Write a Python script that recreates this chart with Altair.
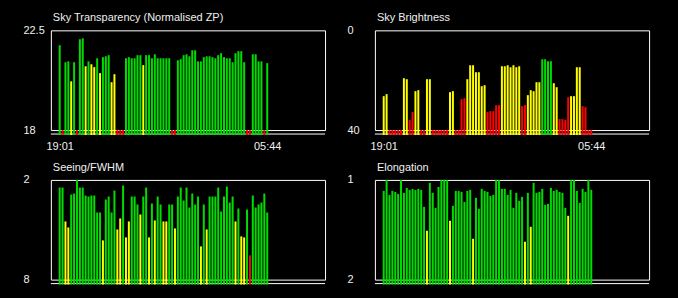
import altair as alt
import pandas as pd

# ---- data ----
time_labels = ["19:01", "05:44"]
time_label_index = [0, 72]

transparency = [21.83, 18, 21.06, 21.10, 20.20, 21.06, 18, 22.10, 22.14, 20.88,
                21.10, 20.97, 20.84, 21.24, 20.57, 21.29, 21.33, 21.38, 20.16, 20.52,
                18, 18, 18, 21.24, 21.29, 21.24, 21.24, 21.38, 21.38, 20.93,
                21.38, 21.38, 21.24, 21.42, 21.24, 21.24, 21.24, 21.24, 21.24, 18,
                18, 21.15, 21.20, 21.38, 21.42, 21.33, 21.60, 21.60, 21.10, 21.10,
                21.29, 21.33, 21.33, 21.29, 21.24, 21.38, 21.47, 21.29, 21.24, 21.24,
                21.06, 21.47, 21.56, 21.56, 21.06, 18, 18, 21.42, 21.42, 21.10,
                21.10, 18, 21.02]
transparency_flag = list("GRGGYGRGGY" "GYYGYGGGYY" "RRRGGGGGGY" "GGGGGGGGGR"
                         "RGGGGGGGGG" "GGGGGGGGGG" "GGGGGRRGGG" "GRG")

brightness = [26.4, 25.6, 40, 40, 40, 40, 40, 19.2, 19.6, 36.0,
              32.8, 24.4, 24.0, 40, 40, 19.6, 19.6, 40, 40, 40,
              40, 40, 40, 24.8, 24.4, 40, 40, 27.6, 27.2, 19.6,
              14.0, 14.0, 16.8, 16.8, 22.4, 22.0, 32.8, 32.4, 32.4, 30.0,
              30.0, 14.4, 14.4, 14.0, 14.8, 14.0, 14.8, 14.4, 30.4, 30.0,
              26.0, 24.0, 24.4, 20.8, 20.8, 11.6, 11.6, 12.4, 12.4, 21.2,
              22.8, 35.6, 35.6, 36.0, 26.8, 26.4, 26.4, 14.8, 14.8, 30.4,
              30.8, 40, 40]
brightness_flag = list("YYRRRRRYYR" "RYYRRYYRRR" "RRRYYRRRRY" "YYYYYYRRRR"
                       "RYYYYYYYRR" "YYYYYGGGGY" "YRRRRYYYYR" "RRR")

seeing = [2.46, 2.46, 4.50, 4.86, 2.88, 2.82, 2.00, 2.46, 2.46, 2.94,
          3.00, 2.94, 2.94, 3.96, 3.96, 5.64, 3.18, 3.00, 3.96, 2.64,
          4.98, 4.32, 2.34, 5.46, 4.50, 3.00, 3.00, 3.48, 4.08, 3.00,
          2.46, 5.46, 3.42, 4.44, 3.00, 3.48, 4.50, 4.50, 3.48, 3.48,
          4.92, 3.00, 2.46, 3.24, 2.46, 3.66, 2.82, 3.48, 3.00, 6.00,
          3.48, 4.98, 3.00, 3.00, 3.00, 2.46, 3.90, 3.00, 2.40, 3.36,
          3.00, 4.50, 3.72, 5.40, 5.46, 3.78, 6.54, 2.94, 3.66, 3.48,
          3.36, 2.82, 3.96]
seeing_flag = list("GGYYGGGGGG" "GGGGGYGGGG" "YYGYYGGGYG" "GYGYGGYYGG"
                   "YGGGGGGGGY" "GYGGGGGGGG" "GYGYYGRGGG" "GGG")

elongation = [1.11, 1.00, 1.15, 1.11, 1.12, 1.14, 1.00, 1.13, 1.08, 1.10,
              1.09, 1.10, 1.09, 1.10, 1.27, 1.51, 1.03, 1.13, 1.28, 1.07,
              1.00, 1.00, 1.00, 1.41, 1.26, 1.11, 1.11, 1.12, 1.22, 1.11,
              1.10, 1.59, 1.18, 1.29, 1.09, 1.11, 1.12, 1.16, 1.15, 1.00,
              1.00, 1.09, 1.09, 1.15, 1.10, 1.28, 1.13, 1.21, 1.17, 1.62,
              1.13, 1.47, 1.03, 1.13, 1.12, 1.09, 1.25, 1.24, 1.08, 1.11,
              1.10, 1.12, 1.13, 1.28, 1.36, 1.00, 1.00, 1.11, 1.23, 1.09,
              1.12, 1.00, 1.10]
elongation_flag = list("GGGGGGGGGG" "GGGGGYGGGG" "GGGYGGGGGG" "GYGGGGGGGG"
                       "GGGGGGGGGY" "GYGGGGGGGG" "GGGGYGGGGG" "GGG")

flag_names = ["G", "Y", "R"]
flag_colors = ["#00dc00", "#ffff00", "#ff0000"]

W, H = 275, 100
BASE_PX = 5          # bars start this many pixels below the frame
FONT = "Liberation Sans"
TXT = "#f0f0f0"

time_expr = "datum.value == %d ? '%s' : '%s'" % (time_label_index[0], time_labels[0], time_labels[1])


def panel(title, values, flags, lo, hi, reverse, show_time):
    df = pd.DataFrame({"i": list(range(len(values))), "v": values, "q": flags})
    # baseline value lying BASE_PX pixels beyond the bottom of the frame
    base = (lo - (hi - lo) * BASE_PX / H) if not reverse else (hi + (hi - lo) * BASE_PX / H)
    if show_time:
        xaxis = alt.Axis(values=time_label_index, labelExpr=time_expr, ticks=False,
                         domain=False, grid=False, labelPadding=10, labelFlush=False,
                         labelColor=TXT, labelFontSize=11, labelFont=FONT, title=None)
    else:
        xaxis = None
    x = alt.X("i:Q", axis=xaxis,
              scale=alt.Scale(domain=[-4 / 3, W / 3 - 4 / 3], nice=False, zero=False))
    y = alt.Y("v:Q",
              scale=alt.Scale(domain=[lo, hi], reverse=reverse, nice=False, zero=False),
              axis=alt.Axis(values=[lo, hi], format=".3~g", ticks=False, domain=False,
                            grid=False, labelAlign="left", labelPadding=28, labelColor=TXT,
                            labelFontSize=11, labelFont=FONT, title=None))
    bars = alt.Chart(df).mark_bar(size=2, clip=False).encode(
        x=x, y=y, y2=alt.datum(base),
        color=alt.Color("q:N", scale=alt.Scale(domain=flag_names, range=flag_colors), legend=None),
    )
    line = alt.Chart(pd.DataFrame({"a": [0]})).mark_rule(color="white", strokeWidth=1).encode(
        x=alt.value(0), x2=alt.value(W), y=alt.value(H + 4))
    return alt.layer(line, bars).properties(
        width=W, height=H,
        title=alt.TitleParams(title, anchor="start", frame="group", fontSize=11, font=FONT,
                              fontWeight="normal", color=TXT, offset=1, dx=2))


p1 = panel("Sky Transparency (Normalised ZP)", transparency, transparency_flag, 18, 22.5, False, True)
p2 = panel("Sky Brightness", brightness, brightness_flag, 0, 40, True, True)
p3 = panel("Seeing/FWHM", seeing, seeing_flag, 2, 8, True, False)
p4 = panel("Elongation", elongation, elongation_flag, 1, 2, True, False)

chart = alt.concat(p1, p2, p3, p4, columns=2, spacing=50, bounds="flush").properties(
    padding={"left": 22, "top": 11, "right": 28, "bottom": 13}
).configure(background="black", font=FONT).configure_view(stroke="white", strokeWidth=1)

chart.save("out.html", embed_options={"renderer": "svg", "actions": False})
